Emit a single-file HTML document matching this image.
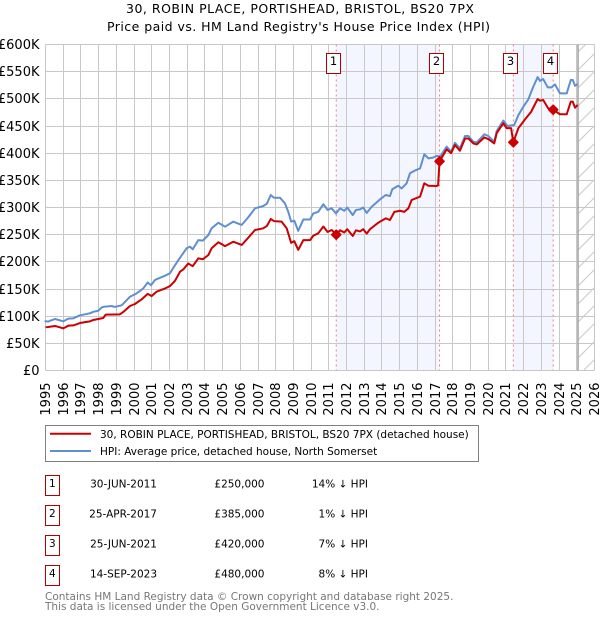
<!DOCTYPE html>
<html lang="en">
<head>
<meta charset="utf-8">
<title>30, Robin Place price chart</title>
<style>
  html, body { margin: 0; padding: 0; background: #fff; }
  body { width: 600px; height: 620px; overflow: hidden; position: relative; }
  svg { position: absolute; left: 0; top: 0; }
  text { font-family: "DejaVu Sans", "Liberation Sans", sans-serif; fill: #000; }
</style>
</head>
<body>
<svg id="chart" width="600" height="620" viewBox="0 0 600 620" xmlns="http://www.w3.org/2000/svg">
  <defs>
    <pattern id="hatch" patternUnits="userSpaceOnUse" width="18" height="18">
      <path d="M0 18 L18 0 M-2 2 L2 -2 M16 20 L20 16" stroke="#c8c8c8" stroke-width="1" fill="none"></path>
    </pattern>
  </defs>

  <text x="300" y="13" text-anchor="middle" font-size="12.5" textLength="348" lengthAdjust="spacing">30, ROBIN PLACE, PORTISHEAD, BRISTOL, BS20 7PX</text>
  <text x="298.5" y="31" text-anchor="middle" font-size="12.5" textLength="383" lengthAdjust="spacing">Price paid vs. HM Land Registry's House Price Index (HPI)</text>

  <g id="bands"></g>
  <g id="grid"></g>
  <rect x="578" y="44.5" width="16.5" height="326" fill="url(#hatch)"></rect>
  <line x1="578" x2="578" y1="44.5" y2="370.5" stroke="#a0a0a0" stroke-width="1.5"></line>
  <g id="sale-lines"></g>
  <g id="y-axis"></g>
  <g id="x-axis"></g>
  <g id="series"></g>
  <g id="sale-markers"></g>

  <g>
    <rect x="45.5" y="425.5" width="433" height="36" fill="#fff" stroke="#808080" stroke-width="1"></rect>
    <line x1="50" x2="91" y1="433.7" y2="433.7" stroke="#cc0000" stroke-width="2"></line>
    <text x="100" y="438" font-size="10.5">30, ROBIN PLACE, PORTISHEAD, BRISTOL, BS20 7PX (detached house)</text>
    <line x1="50" x2="91" y1="451" y2="451" stroke="#5f8fd0" stroke-width="2"></line>
    <text x="100" y="455" font-size="10.5">HPI: Average price, detached house, North Somerset</text>
  </g>

  <g font-size="10.5">
    <g>
      <rect x="45.5" y="475.5" width="14" height="20" fill="#fff" stroke="#b00000" stroke-width="1"></rect>
      <text x="52.3" y="487" text-anchor="middle" font-size="10.5">1</text>
      <text x="157" y="487.5" text-anchor="end">30-JUN-2011</text>
      <text x="264.5" y="487.5" text-anchor="end">£250,000</text>
      <text x="368" y="487.5" text-anchor="end">14% ↓ HPI</text>
    </g>
    <g>
      <rect x="45.5" y="505.5" width="14" height="20" fill="#fff" stroke="#b00000" stroke-width="1"></rect>
      <text x="52.3" y="517" text-anchor="middle" font-size="10.5">2</text>
      <text x="157" y="517.5" text-anchor="end">25-APR-2017</text>
      <text x="264.5" y="517.5" text-anchor="end">£385,000</text>
      <text x="368" y="517.5" text-anchor="end">1% ↓ HPI</text>
    </g>
    <g>
      <rect x="45.5" y="535.5" width="14" height="20" fill="#fff" stroke="#b00000" stroke-width="1"></rect>
      <text x="52.3" y="547" text-anchor="middle" font-size="10.5">3</text>
      <text x="157" y="547.5" text-anchor="end">25-JUN-2021</text>
      <text x="264.5" y="547.5" text-anchor="end">£420,000</text>
      <text x="368" y="547.5" text-anchor="end">7% ↓ HPI</text>
    </g>
    <g>
      <rect x="45.5" y="565.5" width="14" height="20" fill="#fff" stroke="#b00000" stroke-width="1"></rect>
      <text x="52.3" y="577" text-anchor="middle" font-size="10.5">4</text>
      <text x="157" y="577.5" text-anchor="end">14-SEP-2023</text>
      <text x="264.5" y="577.5" text-anchor="end">£480,000</text>
      <text x="368" y="577.5" text-anchor="end">8% ↓ HPI</text>
    </g>
  </g>

  <text x="45" y="600" font-size="10.5" style="fill:#777">Contains HM Land Registry data © Crown copyright and database right 2025.</text>
  <text x="45" y="610" font-size="10.5" style="fill:#777">This data is licensed under the Open Government Licence v3.0.</text>
</svg>

<script>
const tickYears = [1995,1996,1997,1998,1999,2000,2001,2002,2003,2004,2005,2006,2007,2008,2009,2010,2011,2012,2013,2014,2015,2016,2017,2018,2019,2020,2021,2022,2023,2024,2025,2026];
const yTickValues = [0,50,100,150,200,250,300,350,400,450,500,550,600];
const yTickLabels = ["£0","£50K","£100K","£150K","£200K","£250K","£300K","£350K","£400K","£450K","£500K","£550K","£600K"];

const hpiYears = [1994.95,1995.15,1995.54,1996,1996.29,1996.57,1996.95,1997.23,1997.51,1997.7,1997.98,1998.17,1998.3,1998.74,1998.9,1999.3,1999.77,2000.15,2000.52,2000.77,2000.96,2001.18,2001.75,2002.03,2002.2,2002.5,2002.97,2003.16,2003.31,2003.63,2003.88,2004.2,2004.38,2004.76,2005.14,2005.6,2006.08,2006.45,2006.83,2007.3,2007.5,2007.72,2007.9,2008.24,2008.52,2008.71,2008.87,2009.05,2009.27,2009.56,2009.94,2010.12,2010.4,2010.69,2010.93,2011.16,2011.4,2011.63,2011.87,2012.04,2012.35,2012.53,2012.76,2012.94,2013.14,2013.42,2013.89,2014.21,2014.45,2014.58,2014.92,2015.11,2015.39,2015.58,2015.86,2016.15,2016.39,2016.62,2016.9,2017.09,2017.28,2017.65,2017.9,2018.12,2018.4,2018.69,2018.88,2019.16,2019.35,2019.78,2020,2020.34,2020.48,2020.85,2021.04,2021.13,2021.47,2021.7,2021.98,2022.26,2022.54,2022.79,2022.92,2023.1,2023.36,2023.58,2023.77,2024.05,2024.43,2024.66,2024.77,2024.9,2025.05];
const hpiValues = [91,90,94.8,90.5,95.4,96,101.6,103.4,105.3,108,110,116,117.4,118.7,117,120,135.8,142,151,162,157,166.6,174.5,179,188,203,225,228,223,240,239,249.4,261.7,272,264.7,274,268,282,298.5,302.8,307,323,318,318,307.7,292,274,275.7,257,278,278,289,292,306,295.5,298.5,289,298.5,294,300,286,295.5,296.5,300,290,301.5,315,323,321,333.5,340,335,344.5,363,368,372,398,390.5,392,395,393.5,412,403,419,409,431.6,431.6,421,420,434.8,431.6,421,441,460,452,450,452,470,485.5,499,522,540,533,536.5,521,521,526.6,510,510,534.7,534.7,524,527];

const paidYears = [1995,1995.15,1995.54,1996,1996.29,1996.57,1996.95,1997.23,1997.51,1997.7,1998.26,1998.4,1999.2,1999.4,1999.77,2000.05,2000.43,2000.77,2000.99,2001.27,2001.75,2002.03,2002.31,2002.6,2002.78,2003.06,2003.31,2003.63,2003.88,2004.2,2004.38,2004.76,2005.14,2005.6,2006.08,2006.45,2006.83,2007.3,2007.5,2007.72,2007.9,2008.33,2008.62,2008.87,2009.05,2009.27,2009.56,2009.94,2010.12,2010.4,2010.69,2010.93,2011.16,2011.417,2011.63,2011.87,2012.04,2012.35,2012.53,2012.76,2012.94,2013.14,2013.32,2013.79,2014.21,2014.45,2014.7,2015.02,2015.26,2015.49,2015.68,2016.15,2016.39,2016.62,2017.09,2017.17,2017.25,2017.65,2017.9,2018.12,2018.4,2018.69,2018.88,2019.16,2019.35,2019.78,2020,2020.34,2020.48,2020.85,2021.04,2021.29,2021.417,2021.7,2022.12,2022.42,2022.79,2022.92,2023.1,2023.38,2023.667,2024.05,2024.43,2024.66,2024.77,2024.9,2025.05];
const paidValues = [79.5,80,82,77.6,82.5,83,87.4,89,90.4,93,96.6,102.8,103.4,108,118.7,122.4,131,141,137,145,151,155.5,165,182,186,197,192,206.5,204.7,212.6,225,236,229,237,231,244.4,258.6,261.7,266,278.8,275,274,261.7,235,238,222,240,240,248,252.5,265,255,258.6,250,258,254,260,247.5,258,256,260,252,260,272,280,277,292,294,292,298.5,314,320,344.5,340,339.6,341,385,407,400,415,404.5,427,427,418,416,429,426,418,437,455,446,446,420,446,464,476,499.7,496.6,498,482.6,480,471.6,471.6,494.8,494.8,483.7,488.7];

const saleYears = [2011.417,2017.25,2021.417,2023.667];
const salePrices = [250,385,420,480];
const saleNumbers = ["1","2","3","4"];

const svgNS = "http://www.w3.org/2000/svg";
const yearStart = 1995, yearEnd = 2026, valueMax = 600;
function xScale(year) { return 45.5 + (year - yearStart) * (594.5 - 45.5) / (yearEnd - yearStart); }
function yScale(value) { return 370.5 - value * 326 / valueMax; }
function make(tag, attrs, parent) {
  const el = document.createElementNS(svgNS, tag);
  for (const key in attrs) { el.setAttribute(key, attrs[key]); }
  parent.appendChild(el);
  return el;
}

const bandsG = document.getElementById("bands");
for (let i = 0; i < saleYears.length; i += 2) {
  const band = make("rect", { x: xScale(saleYears[i]), y: 44.5, width: xScale(saleYears[i + 1]) - xScale(saleYears[i]), height: 326, fill: "#f3f6fe" }, bandsG);
  
  
}

const gridG = document.getElementById("grid");
const yAxisG = document.getElementById("y-axis");
const xAxisG = document.getElementById("x-axis");
yTickValues.forEach(function (value, i) {
  const y = Math.round(yScale(value) - 0.5) + 0.5;
  const line = make("line", { x1: 45.5, x2: 594.5, y1: y, y2: y, stroke: "#c8c8c8", "stroke-width": 1 }, gridG);
  
  
  const label = make("text", { x: 39.5, y: y + 4.5, "text-anchor": "end", "font-size": 13 }, yAxisG);
  
  
  label.textContent = yTickLabels[i];
});
tickYears.forEach(function (year) {
  const x = Math.round(xScale(year) - 0.5) + 0.5;
  const line = make("line", { x1: x, x2: x, y1: 44.5, y2: 370.5, stroke: "#c8c8c8", "stroke-width": 1 }, gridG);
  
  
  const label = make("text", { transform: "translate(" + (x + 4.5) + ",382.5) rotate(-90)", "text-anchor": "end", "font-size": 13 }, xAxisG);
  
  
  label.textContent = String(year);
});

const saleLinesG = document.getElementById("sale-lines");
saleYears.forEach(function (year) {
  const x = xScale(year);
  const line = make("line", { x1: x, x2: x, y1: 44.5, y2: 370.5, stroke: "#f08080", "stroke-width": 1, "stroke-dasharray": "2 3" }, saleLinesG);
  
  
});

function linePoints(years, values) {
  return years.map(function (year, i) { return xScale(year).toFixed(2) + "," + yScale(values[i]).toFixed(2); }).join(" ");
}
const seriesG = document.getElementById("series");
const hpiLine = make("polyline", { points: linePoints(hpiYears, hpiValues), fill: "none", stroke: "#5f8fd0", "stroke-width": 2, "stroke-linejoin": "round" }, seriesG);


const paidLine = make("polyline", { points: linePoints(paidYears, paidValues), fill: "none", stroke: "#cc0000", "stroke-width": 2, "stroke-linejoin": "round" }, seriesG);



const markersG = document.getElementById("sale-markers");
saleYears.forEach(function (year, i) {
  const x = xScale(year), y = yScale(salePrices[i]), r = 4.5;
  const dot = make("polygon", { points: [x - r, y, x, y - r, x + r, y, x, y + r].join(" "), fill: "#cc0000", stroke: "#cc0000", "stroke-width": 1.6, "stroke-linejoin": "round" }, markersG);
  
  
  const left = Math.floor(x - 10) + 0.5;
  const box = make("rect", { x: left, y: 53.5, width: 14, height: 20, fill: "#fff", stroke: "#b00000", "stroke-width": 1 }, markersG);
  
  
  const label = make("text", { x: left + 7, y: 65, "text-anchor": "middle", "font-size": 11.5 }, markersG);
  
  
  label.textContent = saleNumbers[i];
});
</script>
</body>
</html>
